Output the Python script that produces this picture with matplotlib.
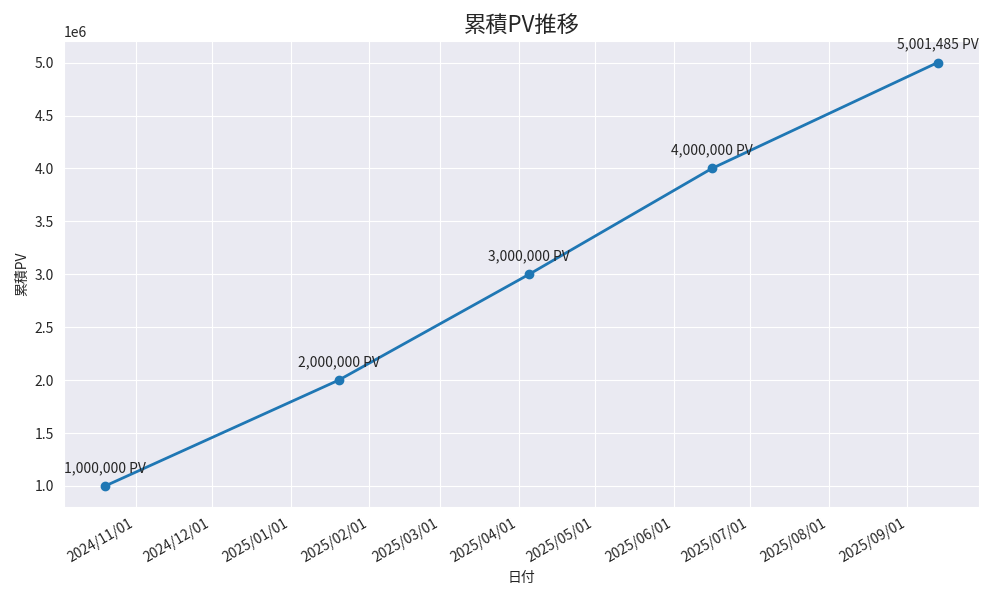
import matplotlib
matplotlib.use("Agg")
import matplotlib.pyplot as plt
import matplotlib.dates as mdates
import seaborn as sns
import pandas as pd

dates = ["2024-10-20", "2025-01-20", "2025-04-05", "2025-06-16", "2025-09-13"]
cum_pv = [1000000, 2000000, 3000000, 4000000, 5001485]

sns.set_style("darkgrid")
plt.rcParams['font.family'] = ['Noto Sans CJK JP', 'DejaVu Sans']

x = pd.to_datetime(dates)

fig, ax = plt.subplots(figsize=(10, 6), dpi=100)
ax.plot(x, cum_pv, marker='o', linewidth=2, markersize=6, color='#1f77b4')
for d, v in zip(x, cum_pv):
    ax.annotate(f"{v:,} PV", (d, v), textcoords='offset points', xytext=(0, 10),
                ha='center', fontsize=10)

ax.set_title("累積PV推移", fontsize=16)
ax.set_xlabel("日付")
ax.set_ylabel("累積PV")
ax.xaxis.set_major_locator(mdates.MonthLocator())
ax.xaxis.set_major_formatter(mdates.DateFormatter('%Y/%m/%d'))
fig.autofmt_xdate()
fig.tight_layout()
fig.savefig("out.png")
